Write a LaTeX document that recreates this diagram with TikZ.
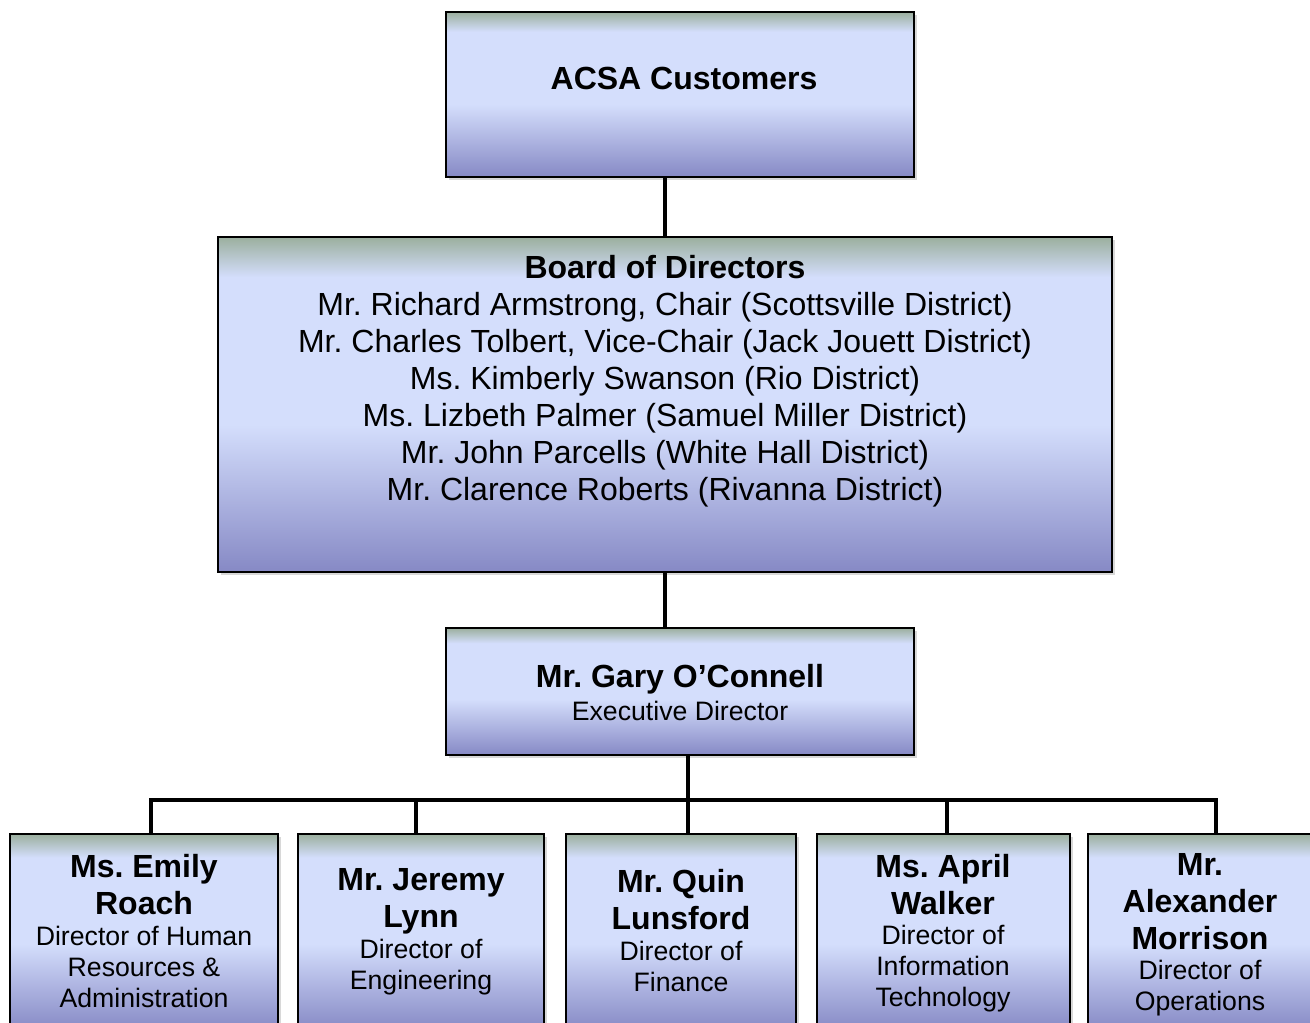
\documentclass[tikz,border=0pt]{standalone}
\usepackage{fontspec}
\setmainfont{Liberation Sans}
\usetikzlibrary{shadows}
\definecolor{ctop}{RGB}{155,175,158}
\definecolor{cmid}{RGB}{212,222,252}
\definecolor{cbot}{RGB}{134,137,197}
\pgfdeclareverticalshading{boxshade}{100bp}{color(0bp)=(cbot); color(25bp)=(cbot); color(47bp)=(cmid); color(69bp)=(cmid); color(75bp)=(ctop); color(100bp)=(ctop)}
\frenchspacing
\begin{document}
\frenchspacing
\begin{tikzpicture}[x=0.75pt,y=-0.75pt,
 box/.style={draw=black, line width=1.7pt, shading=boxshade, drop shadow={shadow xshift=2.5pt, shadow yshift=-2.5pt, opacity=0.25, fill=black!60}, inner sep=0pt, outer sep=0pt},
 conn/.style={line width=3pt},
 bigb/.style={font=\bfseries\fontsize{24}{27.75}\selectfont, align=center, inner sep=0pt},
 bigr/.style={font=\fontsize{24}{27.75}\selectfont, align=center, inner sep=0pt},
 role/.style={font=\fontsize{20}{23.25}\selectfont, align=center, inner sep=0pt}]
\clip (0,0) rectangle (1310,1023);
\fill[white] (0,0) rectangle (1310,1023);
% connectors' coordinates
\coordinate (k1) at (151,800);
\coordinate (k2) at (416,800);
\coordinate (k3) at (688,800);
\coordinate (k4) at (947,800);
\coordinate (k5) at (1216,800);
% boxes
\node[box, minimum width={468*0.75pt}, minimum height={165*0.75pt}] (acsa) at (680,94.5) {};
\node[box, minimum width={894*0.75pt}, minimum height={335*0.75pt}] (board) at (665,404.5) {};
\node[box, minimum width={468*0.75pt}, minimum height={127*0.75pt}] (gary) at (680,691.5) {};
\node[box, minimum width={268*0.75pt}, minimum height={196*0.75pt}] (b1) at (144,932) {};
\node[box, minimum width={246*0.75pt}, minimum height={196*0.75pt}] (b2) at (421,932) {};
\node[box, minimum width={230*0.75pt}, minimum height={196*0.75pt}] (b3) at (681,932) {};
\node[box, minimum width={253*0.75pt}, minimum height={196*0.75pt}] (b4) at (943.5,932) {};
\node[box, minimum width={232*0.75pt}, minimum height={196*0.75pt}] (b5) at (1204,932) {};
% texts
\node[bigb] (acsat) at (684,78) {ACSA Customers};
\node[bigr] (boardt) at (665,381) {\textbf{Board of Directors}\\
Mr. Richard Armstrong, Chair (Scottsville District)\\
Mr. Charles Tolbert, Vice-Chair (Jack Jouett District)\\
Ms. Kimberly Swanson (Rio District)\\
Ms. Lizbeth Palmer (Samuel Miller District)\\
Mr. John Parcells (White Hall District)\\
Mr. Clarence Roberts (Rivanna District)};
\node[bigb] (garyn) at (680,679) {Mr. Gary O’Connell};
\node[role] (garyr) at (680,711) {Executive Director};
\node[bigb] (n1) at (144,885) {Ms. Emily\\Roach};
\node[role] (r1) at (144,967) {Director of Human\\Resources \&\\Administration};
\node[bigb] (n2) at (421,901) {Mr. Jeremy\\Lynn};
\node[role] (r2) at (421,967) {Director of\\Engineering};
\node[bigb] (n3) at (681,900) {Mr. Quin\\Lunsford};
\node[role] (r3) at (681,966.5) {Director of\\Finance};
\node[bigb] (n4) at (943,885) {Ms. April\\Walker};
\node[role] (r4) at (943,969) {Director of\\Information\\Technology};
\node[bigb] (n5) at (1200,902) {Mr.\\Alexander\\Morrison};
\node[role] (r5) at (1200,988) {Director of\\Operations};
% connectors
\draw[conn] (board.north) -- (board.north |- acsa.south);
\draw[conn] (board.south) -- (board.south |- gary.north);
\draw[conn] (k3 |- gary.south) -- (k3 |- b3.north);
\draw[conn, line cap=rect] (k1) -- (k5);
\draw[conn] (k1) -- (k1 |- b1.north);
\draw[conn] (k2) -- (k2 |- b2.north);
\draw[conn] (k4) -- (k4 |- b4.north);
\draw[conn] (k5) -- (k5 |- b5.north);
\end{tikzpicture}
\end{document}
